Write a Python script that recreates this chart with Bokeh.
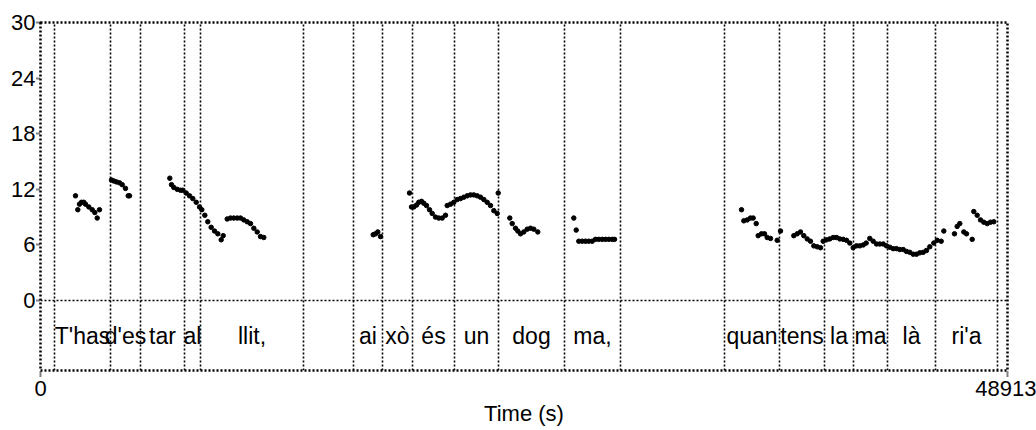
from bokeh.plotting import figure
from bokeh.models import Range1d, FixedTicker, PrintfTickFormatter, ColumnDataSource
from bokeh.embed import file_html
from bokeh.resources import INLINE
from bokeh.core.properties import value

# ---------------- data ----------------
x_start = 0
x_end = 48913
y_min = 0
y_max = 30
y_ticks = [0, 6, 12, 18, 24, 30]
x_ticks = [0, 48913]

# interval boundaries of the text tier (time units)
boundaries = [708, 3541, 5058, 7284, 8093, 13303, 15832, 17299, 18817, 20941,
              23167, 26505, 29337, 34598, 37380, 39656, 41123, 42843, 45271, 48407]
interval_labels = ["", "T'has", "d'es", "tar", "al", "llit,", "", "ai", "xò", "és",
                   "un", "dog", "ma,", "", "quan", "tens", "la", "ma", "là", "ri'a", ""]

# pitch points
pitch_time = [
    1770, 1887, 1973, 2074, 2190, 2276, 2443, 2615, 2747, 2868, 2984,
    3591, 3708, 3844, 3996, 4133, 4299, 4436, 4502,
    6540, 6626, 6743, 6915, 7081, 7198, 7370, 7537, 7704, 7876, 8043, 8159, 8311,
    8462, 8634, 8801, 8968, 9140, 9241,
    9444, 9611, 9778, 9950, 10116, 10283, 10455, 10622, 10789, 10961, 11128, 11295,
    16829, 16945, 17061, 17198,
    18665, 18766, 18883, 19019, 19135, 19272, 19388, 19525, 19676, 19813, 19980,
    20147, 20319, 20486, 20572, 20739, 20906, 21078, 21244, 21411, 21583, 21750,
    21917, 22089, 22256, 22423, 22595, 22762, 22929, 23101, 23151,
    23738, 23860, 24026, 24143, 24279, 24446, 24618, 24785, 24952, 25154,
    26975, 27097, 27228, 27400, 27567, 27734, 27906, 28073, 28240, 28412, 28579,
    28746, 28918, 29034,
    35458, 35575, 35747, 35913, 36050, 36202, 36303, 36470, 36621, 36758, 36925,
    37264, 37431, 38104, 38275, 38442, 38609, 38781, 38948, 39115, 39287, 39454,
    39590, 39757, 39924, 40096, 40263, 40430, 40602, 40769, 40936, 41108, 41275,
    41442, 41614, 41765, 41947, 42119, 42287, 42454, 42626, 42792, 42959, 43131,
    43298, 43465, 43637, 43804, 43971, 44143, 44310, 44477, 44649, 44816, 44983,
    45185, 45357, 45559, 45691, 46232, 46368, 46500, 46702, 46839, 47127, 47208,
    47380, 47547, 47714, 47886, 48053, 48220,
]
pitch_value = [
    11.3, 9.8, 10.4, 10.6, 10.6, 10.4, 10.1, 9.8, 9.5, 8.9, 9.8,
    13.0, 12.9, 12.8, 12.7, 12.5, 12.1, 11.3, 11.3,
    13.2, 12.5, 12.2, 12.0, 11.9, 11.9, 11.6, 11.3, 11.0, 10.6, 10.1, 9.8, 9.2,
    8.5, 7.9, 7.5, 7.2, 6.55, 7.0,
    8.8, 8.9, 8.9, 8.9, 8.9, 8.7, 8.5, 8.3, 7.8, 7.4, 6.9, 6.8,
    7.1, 7.2, 7.4, 6.9,
    11.6, 10.1, 10.1, 10.3, 10.6, 10.7, 10.5, 10.25, 9.8, 9.4, 9.0,
    8.9, 8.9, 9.2, 10.25, 10.4, 10.6, 10.9, 11.0, 11.15, 11.3, 11.4,
    11.4, 11.3, 11.15, 10.9, 10.6, 10.25, 9.7, 9.4, 11.6,
    8.9, 8.3, 7.8, 7.5, 7.2, 7.4, 7.7, 7.8, 7.7, 7.4,
    8.9, 7.6, 6.4, 6.4, 6.4, 6.4, 6.4, 6.6, 6.6, 6.6, 6.6,
    6.6, 6.6, 6.6,
    9.8, 8.6, 8.7, 8.9, 8.9, 8.3, 7.0, 7.2, 7.2, 6.8, 6.7,
    6.5, 7.5, 7.0, 7.2, 7.4, 7.0, 6.65, 6.4, 5.9, 5.8, 5.7,
    6.4, 6.55, 6.65, 6.8, 6.8, 6.65, 6.6, 6.5, 6.2, 5.7, 5.9,
    5.9, 6.0, 6.2, 6.7, 6.4, 6.1, 6.1, 6.1, 5.9, 5.75, 5.6,
    5.6, 5.5, 5.5, 5.3, 5.2, 5.0, 5.0, 5.15, 5.2, 5.4, 5.8,
    6.2, 6.5, 6.4, 7.5, 7.2, 8.0, 8.3, 7.4, 7.2, 6.6, 9.6,
    9.2, 8.7, 8.45, 8.3, 8.45, 8.5,
]

# ---------------- layout ----------------
tier_bottom = -7.55  # bottom of the text tier, below the pitch area
FONT = "Liberation Sans"
DOT = "2 2"

p = figure(width=1036, height=430, output_backend="svg", toolbar_location=None,
           x_range=Range1d(x_start, x_end), y_range=Range1d(tier_bottom, y_max),
           min_border_left=40, min_border_right=29, min_border_top=22,
           min_border_bottom=60, background_fill_color="white",
           border_fill_color="white")
p.grid.visible = False
p.outline_line_color = "black"
p.outline_line_dash = DOT
p.outline_line_width = 2.5

# y axis
ya = p.yaxis[0]
ya.ticker = FixedTicker(ticks=y_ticks)
ya.axis_line_color = None
ya.major_tick_line_color = "black"
ya.major_tick_line_dash = "1 1"
ya.major_tick_line_width = 2
ya.major_tick_out = 4
ya.major_tick_in = 0
ya.minor_tick_line_color = None
ya.major_label_text_font = FONT
ya.major_label_text_font_size = "22px"
ya.major_label_text_color = "black"
ya.major_label_standoff = 1

# x axis
xa = p.xaxis[0]
xa.ticker = FixedTicker(ticks=x_ticks)
xa.formatter = PrintfTickFormatter(format="%d")
xa.axis_line_color = None
xa.major_tick_line_color = "black"
xa.major_tick_line_dash = "1 1"
xa.major_tick_line_width = 2
xa.major_tick_out = 6
xa.major_tick_in = 0
xa.minor_tick_line_color = None
xa.major_label_text_font = FONT
xa.major_label_text_font_size = "22px"
xa.major_label_text_color = "black"
xa.major_label_standoff = 4
xa.axis_label = "Time (s)"
xa.axis_label_text_font = FONT
xa.axis_label_text_font_style = "normal"
xa.axis_label_text_font_size = "22px"
xa.axis_label_text_color = "black"
xa.axis_label_standoff = 2

# separator between pitch area and text tier
p.segment(x0=[x_start], x1=[x_end], y0=[y_min], y1=[y_min],
          line_color="black", line_dash=DOT, line_width=1.6)

# interval boundaries
p.segment(x0=boundaries, x1=boundaries, y0=[tier_bottom] * len(boundaries),
          y1=[y_max] * len(boundaries), line_color="black", line_dash=DOT,
          line_width=1.6)

# tier labels
edges = [x_start] + boundaries + [x_end]
centers = [(a + b) / 2 for a, b in zip(edges[:-1], edges[1:])]
src = ColumnDataSource(dict(x=centers, y=[tier_bottom / 2] * len(centers),
                            t=interval_labels))
p.text(x="x", y="y", text="t", source=src, text_align="center",
       text_baseline="middle", text_font=value(FONT),
       text_font_size="23px", text_color="black")

# pitch points
p.scatter(pitch_time, pitch_value, size=4.5, color="black")

open("out.html", "w").write(file_html(p, INLINE))
